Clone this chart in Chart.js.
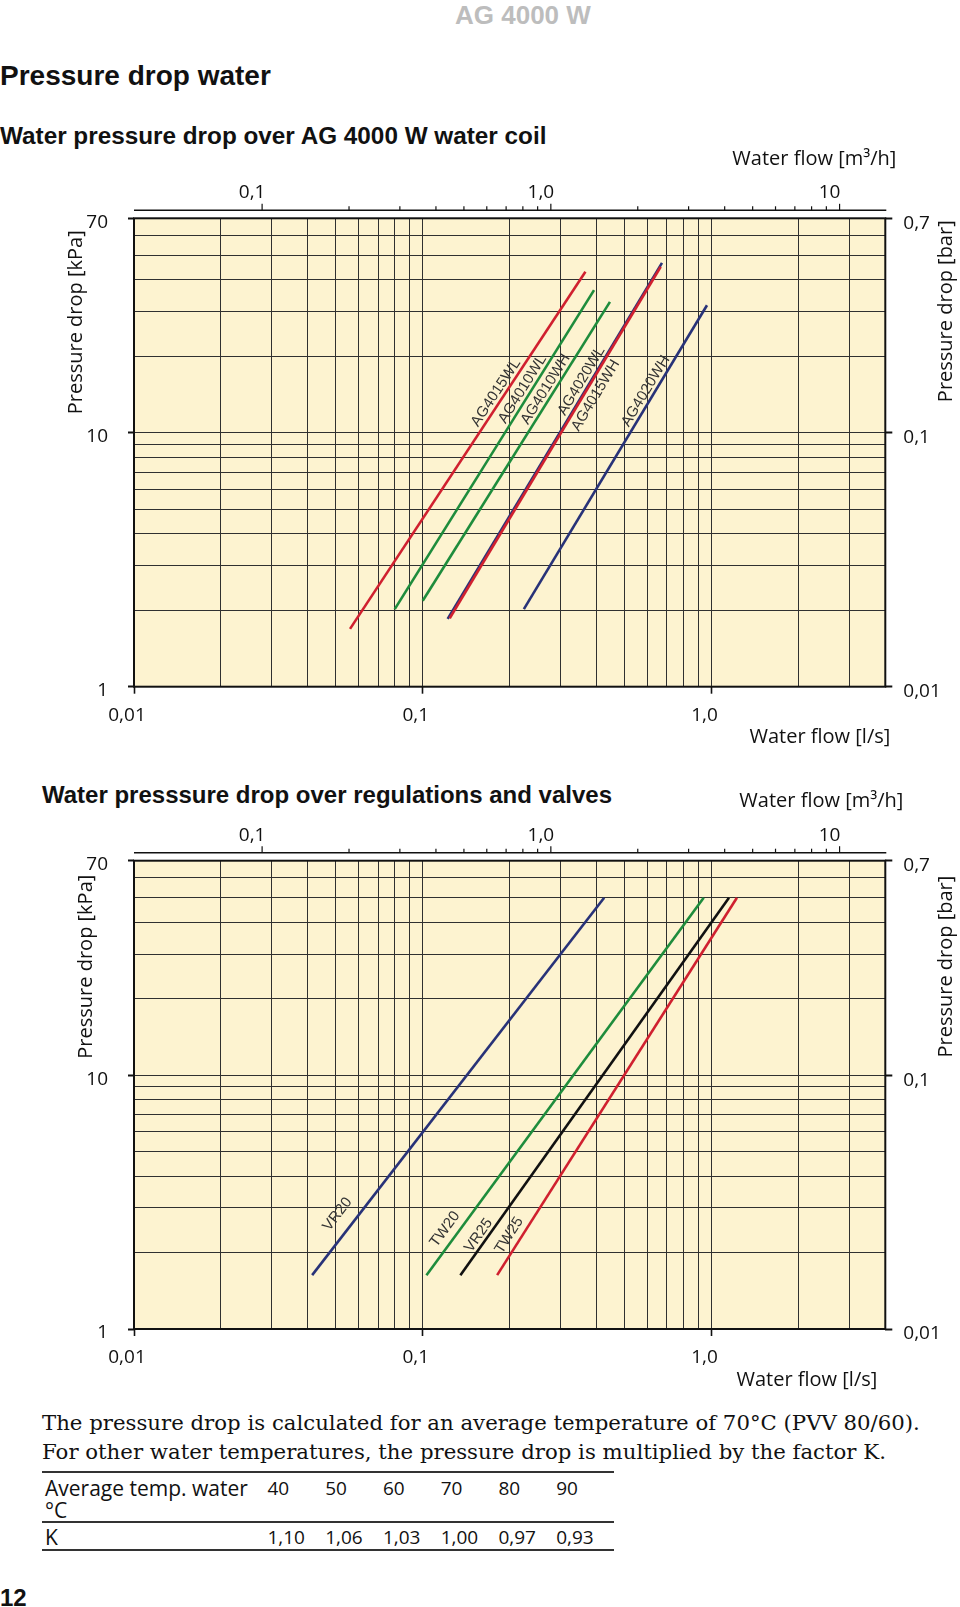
<!DOCTYPE html>
<html>
<head>
<meta charset="utf-8">
<script src="https://cdn.jsdelivr.net/npm/chart.js@4.4.1/dist/chart.umd.min.js"></script>
<style>
  html, body { margin: 0; padding: 0; background: #fff; }
  body { width: 960px; height: 1607px; position: relative; overflow: hidden; color: #111;
         font-family: "Liberation Sans", Arial, sans-serif; }
  .t { position: absolute; white-space: nowrap; }
  .h { font-weight: bold; }
  canvas { position: absolute; left: 0; }
  .note { font-family: "DejaVu Serif", "Liberation Serif", serif; font-size: 21.25px; line-height: 30px; left: 42px; }
  table { position: absolute; left: 42px; top: 1471px; width: 572px; border-collapse: collapse;
          font-family: "Open Sans", sans-serif; font-size: 19px; line-height: 22px; }
  td { padding: 0; vertical-align: top; }
  tr.r1 td { padding-top: 4px; padding-bottom: 0; border-top: 2px solid #333; border-bottom: 2px solid #333; }
  tr.r2 td { padding-top: 3px; padding-bottom: 1px; border-bottom: 2px solid #333; }
  td.c0 { width: 224px; padding-left: 3px; font-size: 21px; }
  td.n { width: 58px; }
</style>
</head>
<body>
<div class="t h" style="left:455px; top:0px; line-height:30px; font-size:26px; color:#bdbdbd;">AG 4000 W</div>
<div class="t h" style="left:0px; top:58px; line-height:36px; font-size:28px;">Pressure drop water</div>
<div class="t h" style="left:0px; top:121px; line-height:30px; font-size:24.3px;">Water pressure drop over AG 4000 W water coil</div>
<div class="t h" style="left:42px; top:780px; line-height:30px; font-size:24px;">Water presssure drop over regulations and valves</div>

<canvas id="coil" width="960" height="620" style="top:140px"></canvas>
<canvas id="valves" width="960" height="620" style="top:780px"></canvas>

<div class="t note" style="top:1408px;">The pressure drop is calculated for an average temperature of 70°C (PVV 80/60).</div>
<div class="t note" style="top:1437px;">For other water temperatures, the pressure drop is multiplied by the factor K.</div>
<table>
  <tr class="r1"><td class="c0">Average temp. water<br>°C</td><td class="n">40</td><td class="n">50</td><td class="n">60</td><td class="n">70</td><td class="n">80</td><td class="n">90</td></tr>
  <tr class="r2"><td class="c0">K</td><td class="n">1,10</td><td class="n">1,06</td><td class="n">1,03</td><td class="n">1,00</td><td class="n">0,97</td><td class="n">0,93</td></tr>
</table>
<div class="t h" style="left:0px; top:1584px; line-height:28px; font-size:24px;">12</div>

<script>
// ---- data (flow in l/s, pressure drop in kPa) ----
const coilSeries = ['AG4015WL', 'AG4010WL', 'AG4010WH', 'AG4020WL', 'AG4015WH', 'AG4020WH'];
const coilFlow = [[0.056, 0.366], [0.080, 0.392], [0.100, 0.445], [0.122, 0.674], [0.124, 0.667], [0.224, 0.965]];
const coilDrop = [[1.69, 43.1], [2.02, 36.5], [2.18, 32.8], [1.85, 46.7], [1.86, 45.1], [2.02, 31.8]];
const coilColors = ['#d0202f', '#1e8c3c', '#1e8c3c', '#283278', '#d0202f', '#283278'];
const coilLabelAt = [10.3, 10.6, 10.5, 11.4, 10.8, 10.3];   // kPa where the name starts
const coilLabelGap = [4, 4, 4, 4, -3, 4];                   // px off the line, < 0 = right side

const valveSeries = ['VR20', 'TW20', 'VR25', 'TW25'];
const valveFlow = [[0.0414, 0.425], [0.103, 0.940], [0.135, 1.15], [0.181, 1.225]];
const valveDrop = [[1.63, 50], [1.63, 50], [1.63, 50], [1.63, 50]];
const valveColors = ['#283278', '#1e8c3c', '#111111', '#d0202f'];
const valveLabelAt = [2.25, 2.0, 1.95, 1.9];
const valveLabelGap = [13, 8, 4, 7];

// ---- axes ----
const flowGrid = [0.01, 0.02, 0.03, 0.04, 0.05, 0.06, 0.07, 0.08, 0.09,
                  0.1, 0.2, 0.3, 0.4, 0.5, 0.6, 0.7, 0.8, 0.9, 1, 2, 3, 4];
const flowMajor = [0.01, 0.1, 1];
const flowMajorText = ['0,01', '0,1', '1,0'];
const m3hTicks = [0.1, 0.2, 0.3, 0.4, 0.5, 0.6, 0.7, 0.8, 0.9, 1, 2, 3, 4, 5, 6, 7, 8, 9, 10];
const m3hMajor = [0.1, 1, 10];
const m3hMajorText = ['0,1', '1,0', '10'];
const kpaGrid = [1, 2, 3, 4, 5, 6, 7, 8, 9, 10, 20, 30, 40, 50, 60, 70];
const kpaMajor = [1, 10, 70];
const kpaMajorText = ['1', '10', '70'];
const barTicks = [0.01, 0.1, 0.7];
const barText = ['0,01', '0,1', '0,7'];

const plotFill = '#fdf3d0';
const gridColor = '#303030';
const tickFont = { family: "'Open Sans', sans-serif", size: 19 };
const titleFont = "20px 'Open Sans', sans-serif";
const nameFont = "15px 'Liberation Sans', Arial, sans-serif";

function pick(list, text) {
  return v => { const k = list.indexOf(v); return k < 0 ? '' : text[k]; };
}

function vtext(ctx, s, x, yTop) {
  ctx.save();
  ctx.translate(x, yTop);
  ctx.rotate(-Math.PI / 2);
  ctx.textAlign = 'right';
  ctx.textBaseline = 'middle';
  ctx.fillText(s, 0, 0);
  ctx.restore();
}

const paper = {
  id: 'paper',
  beforeDraw(chart) {
    const { ctx, chartArea: a } = chart;
    ctx.save();
    ctx.fillStyle = plotFill;
    ctx.fillRect(a.left, a.top, a.right - a.left, a.bottom - a.top);
    ctx.restore();
  },
  afterDatasetsDraw(chart) {
    const { ctx } = chart;
    const ys = chart.scales.y;
    ctx.save();
    ctx.font = nameFont;
    ctx.fillStyle = '#333';
    chart.data.datasets.forEach((ds, i) => {
      const pts = chart.getDatasetMeta(i).data;
      const p0 = pts[0], p1 = pts[1];
      const yp = ys.getPixelForValue(ds.labelAt);
      const t = (yp - p0.y) / (p1.y - p0.y);
      const xp = p0.x + t * (p1.x - p0.x);
      ctx.save();
      ctx.translate(xp, yp);
      ctx.rotate(Math.atan2(p1.y - p0.y, p1.x - p0.x));
      ctx.textBaseline = ds.labelGap > 0 ? 'alphabetic' : 'top';
      ctx.fillText(ds.label, 0, -ds.labelGap);
      ctx.restore();
    });
    ctx.restore();
  },
  afterDraw(chart, args, o) {
    const { ctx, chartArea: a, scales } = chart;
    ctx.save();
    ctx.strokeStyle = '#111';
    ctx.lineWidth = 2;
    ctx.strokeRect(a.left, a.top, a.right - a.left, a.bottom - a.top);
    // m3/h axis, drawn a little above the frame
    const ly = a.top - 8;
    ctx.lineWidth = 1.6;
    ctx.beginPath(); ctx.moveTo(a.left, ly); ctx.lineTo(a.right + 1, ly); ctx.stroke();
    ctx.lineWidth = 1.2;
    m3hTicks.forEach(v => {
      const x = scales.x2.getPixelForValue(v);
      const len = m3hMajor.includes(v) ? 6.5 : 4;
      ctx.beginPath(); ctx.moveTo(x, ly); ctx.lineTo(x, ly - len); ctx.stroke();
    });
    ctx.fillStyle = '#111';
    ctx.font = titleFont;
    ctx.textBaseline = 'middle';
    ctx.textAlign = 'right';
    ctx.fillText('Water flow [m³/h]', a.right + o.topDx, a.top + o.topDy);
    ctx.fillText('Water flow [l/s]', a.right + o.bottomDx, a.bottom + o.bottomDy);
    vtext(ctx, 'Pressure drop [kPa]', o.leftX, a.top + o.leftTop);
    vtext(ctx, 'Pressure drop [bar]', o.rightX, a.top + o.rightTop);
    ctx.restore();
  }
};

function makeChart(id, names, flow, drop, colors, labelAt, labelGap, box, titles) {
  return new Chart(document.getElementById(id), {
    type: 'scatter',
    data: {
      datasets: names.map((name, i) => ({
        label: name,
        data: flow[i].map((x, j) => ({ x: x, y: drop[i][j] })),
        showLine: true,
        borderColor: colors[i],
        borderWidth: 2.6,
        pointRadius: 0,
        order: name === 'AG4020WL' ? 1 : 0,
        labelAt: labelAt[i],
        labelGap: labelGap[i],
        xAxisID: 'x',
        yAxisID: 'y'
      }))
    },
    options: {
      responsive: false,
      animation: false,
      events: [],
      layout: { padding: 0 },
      plugins: { legend: { display: false }, tooltip: { enabled: false }, paper: titles },
      scales: {
        x: {
          type: 'logarithmic', position: 'bottom', min: 0.01, max: 4,
          afterBuildTicks: s => { s.ticks = flowGrid.map(v => ({ value: v })); },
          afterFit: s => { s.height = box.bottom; },
          grid: { color: gridColor, lineWidth: 1, tickLength: 7, tickWidth: 1.6,
                  tickColor: c => flowMajor.includes(c.tick.value) ? '#111' : 'rgba(0,0,0,0)' },
          border: { display: false },
          ticks: { autoSkip: false, maxRotation: 0, padding: 10, labelOffset: -7, color: '#111',
                   font: tickFont, callback: pick(flowMajor, flowMajorText) }
        },
        x2: {
          type: 'logarithmic', position: 'top', min: 0.036, max: 14.4,
          afterBuildTicks: s => { s.ticks = m3hTicks.map(v => ({ value: v })); },
          afterFit: s => { s.height = box.top; },
          grid: { display: false },
          border: { display: false },
          ticks: { autoSkip: false, maxRotation: 0, padding: 6, labelOffset: -10, color: '#111',
                   font: tickFont, callback: pick(m3hMajor, m3hMajorText) }
        },
        y: {
          type: 'logarithmic', position: 'left', min: 1, max: 70,
          afterBuildTicks: s => { s.ticks = kpaGrid.map(v => ({ value: v })); },
          afterFit: s => { s.width = box.left; },
          grid: { color: gridColor, lineWidth: 1, tickLength: 6, tickWidth: 2,
                  tickColor: c => kpaMajor.includes(c.tick.value) ? '#111' : 'rgba(0,0,0,0)' },
          border: { display: false },
          ticks: { autoSkip: false, padding: 20, labelOffset: 4, color: '#111',
                   font: tickFont, callback: pick(kpaMajor, kpaMajorText) }
        },
        y2: {
          type: 'logarithmic', position: 'right', min: 0.01, max: 0.7,
          afterBuildTicks: s => { s.ticks = barTicks.map(v => ({ value: v })); },
          afterFit: s => { s.width = box.right; },
          grid: { drawOnChartArea: false, color: '#111', tickLength: 7, tickWidth: 2 },
          border: { display: false },
          ticks: { autoSkip: false, padding: 11, labelOffset: 5, color: '#111',
                   font: tickFont, callback: pick(barTicks, barText) }
        }
      }
    },
    plugins: [paper]
  });
}

makeChart('coil', coilSeries, coilFlow, coilDrop, coilColors, coilLabelAt, coilLabelGap,
  { left: 134, right: 74.7, top: 78.3, bottom: 73.3 },
  { topDx: 11, topDy: -59, bottomDx: 5, bottomDy: 51, leftX: 76, leftTop: 12, rightX: 946, rightTop: 2 });

makeChart('valves', valveSeries, valveFlow, valveDrop, valveColors, valveLabelAt, valveLabelGap,
  { left: 134, right: 74.7, top: 80.7, bottom: 71 },
  { topDx: 18, topDy: -59, bottomDx: -8, bottomDy: 51, leftX: 86, leftTop: 14, rightX: 946, rightTop: 15 });
</script>
</body>
</html>
